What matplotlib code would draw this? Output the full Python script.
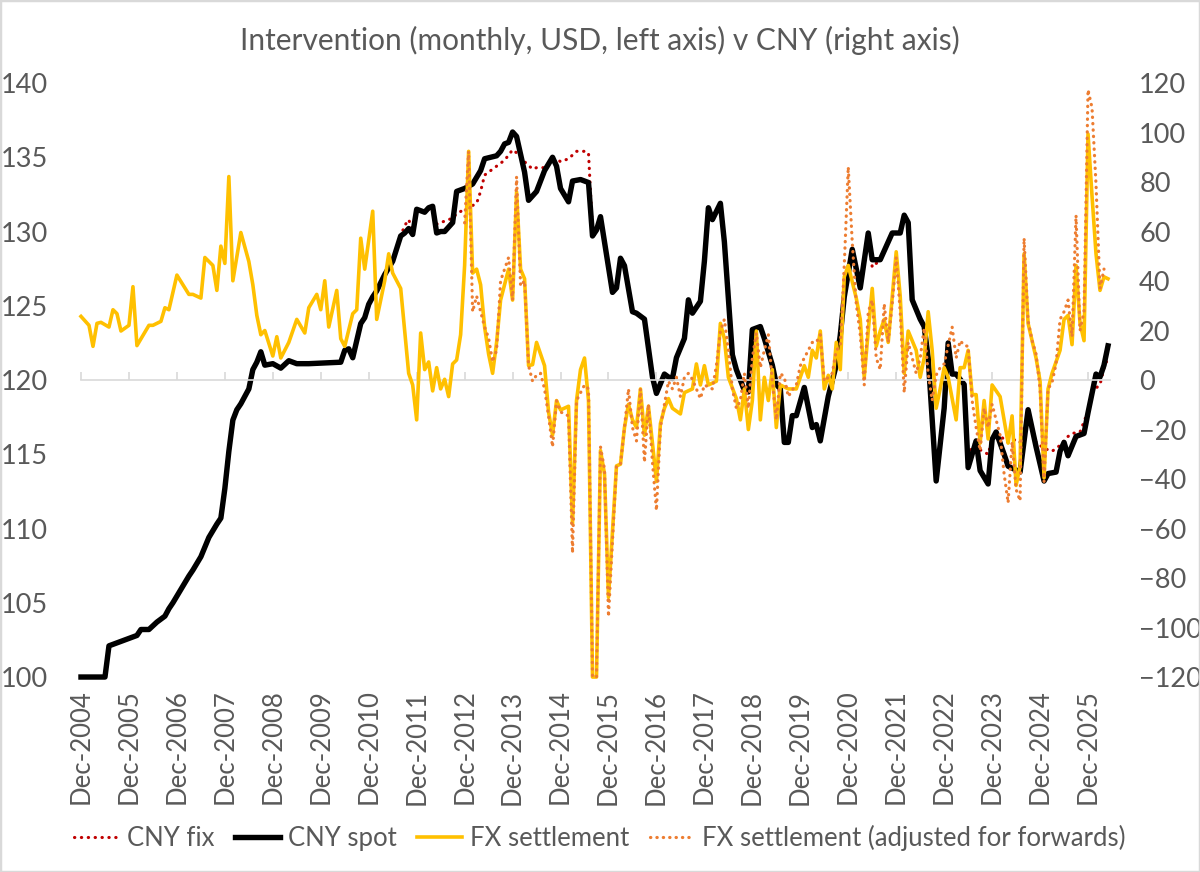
import matplotlib
matplotlib.use("Agg")
import matplotlib.pyplot as plt
import pandas as pd
from matplotlib.patches import Rectangle

# x values are month offsets from Dec-2004 (0 = Dec-2004, 12 = Dec-2005, ...)

# CNY spot index (left axis)
SPOT_M = [0, 6, 7, 8, 11, 14, 15, 17, 19, 21, 22, 23, 25, 27, 28, 30, 32, 34, 35, 36,
          37, 38, 39, 40, 42, 43, 44, 45, 46, 48, 50, 52, 54, 57, 65, 66, 67, 68, 70, 71,
          72, 73, 74, 76, 78, 80, 81, 82, 83, 84, 86, 87, 88, 89, 90, 91, 93, 94, 96, 98,
          100, 101, 104, 105, 106, 107, 108, 109, 111, 112, 114, 116, 118, 119, 120, 122,
          123, 125, 127, 128, 129, 130, 133, 134, 135, 136, 138, 139, 141, 143, 144, 146,
          147, 148, 149, 151, 152, 153, 155, 156, 157, 158, 160, 161, 163, 164, 166, 167,
          168, 170, 171, 173, 174, 175, 176, 177, 178, 179, 181, 183, 184, 185, 187, 189,
          190, 191, 192, 193, 195, 197, 198, 200, 203, 205, 206, 207, 208, 210, 211, 212,
          214, 216, 217, 218, 219, 221, 222, 224, 225, 227, 228, 229, 231, 232, 235, 237,
          239, 241, 242, 244, 245, 246, 247, 249, 251, 252, 254, 255, 256, 257]
SPOT = [100.0, 100.0, 102.1, 102.2, 102.5, 102.8, 103.2, 103.2, 103.7, 104.1, 104.6, 105.0,
        105.9, 106.8, 107.2, 108.1, 109.4, 110.3, 110.7, 112.7, 115.2, 117.3, 118.0, 118.4,
        119.4, 120.7, 121.2, 121.9, 121.0, 121.1, 120.8, 121.3, 121.1, 121.1, 121.2, 122.0,
        122.1, 121.5, 123.8, 124.2, 125.1, 125.6, 126.0, 127.1, 128.0, 129.7, 129.9, 130.2,
        129.8, 131.5, 131.3, 131.6, 131.7, 129.9, 130.0, 130.0, 130.6, 132.7, 132.9, 133.2,
        134.1, 134.9, 135.1, 135.4, 135.9, 136.0, 136.7, 136.4, 134.0, 132.1, 132.7, 134.1,
        135.0, 134.4, 132.9, 132.0, 133.4, 133.5, 133.3, 129.7, 130.1, 131.0, 125.9, 126.2,
        128.2, 127.7, 124.6, 124.5, 124.1, 120.2, 119.1, 120.4, 120.2, 120.1, 121.5, 122.8,
        125.4, 124.5, 125.3, 128.0, 131.6, 130.8, 131.9, 129.3, 121.7, 120.7, 119.3, 119.2,
        123.4, 123.6, 122.8, 121.0, 119.7, 119.4, 115.8, 115.8, 117.6, 117.6, 119.5, 116.8,
        117.0, 115.9, 118.9, 121.0, 123.0, 125.6, 127.2, 128.8, 126.2, 129.9, 128.1, 128.1,
        129.9, 129.9, 131.1, 130.6, 125.4, 124.1, 123.6, 121.5, 113.2, 118.1, 122.5, 120.4,
        120.4, 119.7, 114.1, 115.9, 113.9, 113.0, 116.0, 116.5, 115.0, 114.2, 113.8, 118.0,
        115.5, 113.2, 113.7, 113.8, 115.2, 115.8, 114.9, 116.2, 116.4, 117.8, 120.4, 120.2,
        121.0, 122.3]

# CNY fix index (left axis)
FIX_M = [0, 6, 7, 8, 11, 14, 15, 17, 19, 21, 22, 23, 25, 27, 28, 30, 32, 34, 35, 36,
         37, 38, 39, 40, 42, 43, 44, 45, 46, 48, 50, 52, 54, 57, 65, 66, 67, 68, 70, 71,
         72, 73, 74, 76, 78, 80, 81, 82, 83, 84, 86, 87, 88, 89, 90, 91, 93, 94, 96, 97,
         99, 100, 101, 104, 106, 108, 109, 111, 113, 114, 116, 119, 120, 122, 124, 126,
         127, 128, 129, 130, 133, 134, 135, 136, 138, 139, 141, 143, 144, 146, 147, 148,
         149, 151, 152, 153, 155, 156, 157, 158, 160, 161, 163, 164, 166, 167, 168, 170,
         171, 173, 174, 175, 176, 177, 178, 179, 181, 183, 184, 185, 187, 189, 190, 191,
         192, 193, 195, 197, 198, 200, 203, 205, 206, 207, 208, 210, 211, 212, 214, 216,
         217, 218, 219, 221, 222, 224, 225, 227, 228, 229, 231, 232, 234, 235, 237, 239,
         241, 243, 245, 247, 248, 250, 252, 253, 255, 256, 257]
FIX = [100.0, 100.0, 102.1, 102.2, 102.5, 102.8, 103.2, 103.2, 103.7, 104.1, 104.6, 105.0,
       105.9, 106.8, 107.2, 108.1, 109.4, 110.3, 110.7, 112.7, 115.2, 117.3, 118.0, 118.4,
       119.4, 120.7, 121.2, 121.9, 121.0, 121.1, 120.8, 121.3, 121.1, 121.1, 121.2, 122.0,
       122.1, 121.5, 123.7, 124.2, 125.1, 125.6, 126.0, 127.1, 128.0, 129.7, 130.4, 130.8,
       130.1, 131.3, 131.3, 131.5, 131.6, 130.5, 130.6, 130.7, 130.9, 131.2, 131.5, 131.6,
       131.9, 132.7, 133.8, 134.4, 134.8, 135.5, 135.3, 134.7, 134.2, 134.3, 134.3, 134.9,
       134.7, 134.9, 135.4, 135.4, 135.3, 130.0, 130.1, 131.0, 125.9, 126.2, 128.2, 127.7,
       124.6, 124.5, 124.1, 120.2, 119.1, 120.4, 120.2, 120.1, 121.5, 122.8, 125.4, 124.5,
       125.3, 128.0, 131.6, 130.8, 131.9, 129.3, 121.7, 120.7, 119.3, 119.2, 123.4, 123.6,
       122.8, 121.0, 119.7, 119.4, 115.8, 115.8, 117.6, 117.6, 119.5, 116.8, 117.0, 115.9,
       118.9, 121.0, 123.0, 125.6, 127.2, 128.8, 126.2, 129.9, 127.6, 128.1, 129.9, 129.9,
       131.1, 130.6, 125.4, 124.1, 123.6, 121.5, 113.5, 118.1, 122.5, 120.4, 120.4, 119.7,
       115.0, 115.9, 115.3, 115.0, 116.0, 116.5, 116.0, 115.8, 116.0, 115.8, 117.6, 115.8,
       115.4, 115.2, 115.6, 116.2, 116.4, 116.5, 117.9, 119.2, 119.7, 120.8, 121.5]

# FX settlement, USD bn (right axis)
FXS_M = [0, 2, 3, 4, 5, 7, 8, 9, 10, 12, 13, 14, 17, 18, 20, 21, 22, 24, 27, 28, 30, 31,
         33, 34, 35, 36, 37, 38, 40, 42, 43, 44, 45, 46, 48, 49, 50, 52, 54, 56, 57, 59,
         60, 61, 62, 64, 65, 66, 68, 69, 70, 71, 73, 74, 76, 77, 78, 80, 81, 82, 83, 84,
         85, 86, 87, 88, 89, 90, 91, 92, 93, 94, 95, 96, 97, 98, 99, 100, 101, 102, 103,
         104, 105, 106, 107, 108, 109, 110, 111, 112, 113, 114, 116, 117, 118, 119, 120,
         122, 123, 124, 125, 126, 127, 128, 129, 130, 131, 132, 134, 135, 136, 137, 138,
         139, 140, 141, 142, 143, 144, 145, 146, 147, 148, 150, 151, 153, 154, 155, 156,
         157, 159, 160, 161, 162, 164, 165, 166, 167, 168, 169, 170, 171, 172, 173, 174,
         175, 177, 179, 181, 182, 183, 184, 185, 186, 187, 188, 189, 190, 191, 192, 194,
         195, 196, 197, 198, 199, 200, 201, 202, 204, 205, 206, 207, 209, 210, 211, 212,
         213, 214, 215, 216, 217, 219, 220, 221, 222, 223, 224, 225, 226, 227, 228, 230,
         232, 233, 234, 235, 236, 237, 239, 240, 241, 242, 243, 245, 246, 247, 248, 249,
         250, 251, 252, 253, 254, 255, 256, 257]
FXS = [25.7, 22.1, 13.6, 22.9, 23.3, 21.4, 28.4, 26.8, 19.8, 22.1, 37.7, 13.9, 22.1, 22.1,
       23.7, 29.2, 28.4, 42.4, 34.6, 34.6, 33.1, 49.5, 46.3, 36.2, 54.1, 47.1, 82.2, 40.1,
       59.6, 47.9, 38.5, 26.1, 18.3, 20.0, 9.7, 17.5, 8.9, 15.2, 24.5, 19.0, 29.2, 34.6,
       28.4, 40.1, 21.4, 36.2, 16.7, 13.6, 26.8, 28.4, 57.3, 44.8, 68.2, 24.5, 40.1, 51.0,
       43.2, 37.0, 19.8, 2.7, -2.0, -16.1, 19.0, 4.2, 7.3, -4.4, 5.0, -3.6, 0.3, -6.7, 6.5,
       8.1, 18.3, 46.3, 92.4, 43.2, 44.8, 38.5, 21.4, 10.5, 2.7, 15.2, 32.3, 38.5, 44.8,
       32.3, 76.0, 44.8, 40.9, 5.8, 6.2, 15.2, 5.8, -12.9, -22.3, -8.3, -12.1, -10.6, -58.2,
       -8.3, 4.2, 8.9, -8.3, -120.0, -120.0, -28.5, -37.9, -87.8, -34.7, -34.0, -19.2, -9.8,
       -16.1, -19.2, -3.6, -22.3, -10.6, -25.5, -41.0, -17.6, -11.4, -7.5, -11.4, -13.7,
       -5.1, -3.6, 6.5, -2.0, 5.8, -2.0, -0.5, 22.9, 16.7, 1.1, -7.5, -16.1, -3.6, -20.0,
       -8.3, 19.8, -16.1, 1.1, -8.3, 4.2, -19.2, -2.0, -3.6, -3.6, 5.8, 1.1, 12.0, 8.9,
       19.8, -3.6, 1.9, -3.6, 15.2, 4.2, 41.7, 46.3, 33.1, 24.5, 1.1, 19.8, 37.0, 13.6,
       19.8, 24.5, 15.2, 51.8, 33.9, 2.7, 19.8, 12.0, 1.1, 8.9, 27.6, 12.0, -11.4, -3.6,
       5.0, 1.1, -16.1, 5.0, 5.0, 12.0, -5.9, -5.9, -25.5, -8.3, -23.8, -2.0, -6.7, -25.5,
       -14.5, -42.6, -34.7, 51.0, 22.9, 8.9, -0.5, -39.5, -3.6, 2.7, 12.0, 24.5, 26.1, 14.3,
       46.3, 22.9, 15.9, 99.4, 74.4, 51.0, 36.2, 41.7, 40.9]

# FX settlement adjusted for forwards, USD bn (right axis)
ADJ_M = [96, 97, 98, 99, 100, 101, 102, 103, 104, 105, 106, 107, 108, 109, 110, 111, 112,
         113, 114, 115, 116, 117, 118, 119, 120, 122, 123, 124, 126, 127, 128, 129, 130,
         131, 132, 134, 135, 136, 137, 138, 139, 140, 141, 142, 143, 144, 145, 146, 147,
         148, 149, 150, 151, 152, 153, 154, 155, 156, 158, 159, 160, 161, 162, 163, 164,
         165, 166, 167, 168, 169, 170, 171, 172, 173, 174, 175, 176, 177, 178, 179, 180,
         181, 182, 183, 184, 185, 186, 187, 188, 189, 190, 191, 192, 193, 194, 195, 196,
         197, 198, 199, 200, 201, 202, 203, 204, 205, 206, 207, 208, 209, 210, 211, 212,
         213, 214, 215, 216, 218, 219, 220, 221, 222, 223, 224, 225, 226, 227, 228, 229,
         230, 231, 232, 233, 234, 235, 236, 237, 238, 239, 240, 241, 242, 243, 244, 245,
         246, 247, 248, 249, 250, 251, 252, 253, 254, 255, 256]
ADJ = [63.5, 92.4, 27.6, 33.9, 27.6, 21.4, 17.0, 7.3, 12.0, 40.1, 44.8, 49.5, 32.3, 82.2,
       38.0, 40.1, 5.8, -0.5, 2.0, 2.7, -3.6, -14.5, -27.0, -8.3, -12.9, -14.5, -69.9, -8.3,
       -2.0, -3.6, -120.0, -120.0, -27.0, -36.0, -95.6, -34.7, -34.0, -19.2, -3.6, -19.2,
       -24.6, -3.6, -33.2, -9.8, -33.2, -52.7, -19.2, -9.8, -0.5, -3.6, 1.1, -6.7, 1.1, 2.7,
       0.3, -3.6, -7.5, -2.0, -3.6, 5.8, 19.8, 24.5, 12.0, -3.6, -11.4, -8.3, 2.7, -11.4,
       8.9, 19.0, 5.0, 12.0, 18.3, -0.5, -16.1, 2.7, 1.1, -6.7, -4.0, -2.0, 5.8, 8.9, 12.0,
       15.2, 15.2, 18.3, -0.5, 1.1, 2.7, 12.0, 13.6, 46.3, 86.1, 55.7, 30.8, 18.3, -2.0,
       27.6, 32.3, 8.9, 4.2, 30.8, 15.2, 30.8, 49.5, 27.6, -5.1, 15.2, 8.9, 2.7, 8.9, 21.0,
       2.7, -8.3, 2.0, 5.0, 6.5, 21.4, 8.9, 15.9, 14.0, 13.6, -8.3, -19.2, -28.5, -11.4,
       -19.2, -9.8, -16.1, -22.3, -37.9, -49.6, -25.0, -44.2, -48.8, 57.3, 24.0, 16.0, 10.5,
       -3.6, -41.0, -3.6, -1.0, 6.5, 24.5, 27.6, 32.3, 17.5, 66.6, 20.0, 27.6, 117.3, 110.0,
       79.1, 36.9, 44.8]

TITLE = "Intervention (monthly, USD, left axis) v CNY (right axis)"
TXT = "#595959"
GRID = "#d9d9d9"
FS = 18.5

plt.rcParams["font.family"] = ["Lato", "DejaVu Sans"]

fig = plt.figure(figsize=(12, 8.72), dpi=100)
ax = fig.add_axes([0.0675, 0.2236, 0.8575, 0.6812])
ax2 = ax.twinx()

l_fix, = ax.plot(FIX_M, FIX, color="#c00000", lw=2.25, linestyle=(0, (0.1, 2.1)),
                 dash_capstyle="round", zorder=2, clip_on=False)
l_spot, = ax.plot(SPOT_M, SPOT, color="black", lw=3.9, solid_joinstyle="round",
                  zorder=3, clip_on=False)
l_fxs, = ax2.plot(FXS_M, FXS, color="#ffc000", lw=2.6, solid_joinstyle="round",
                  zorder=3, clip_on=False)
l_adj, = ax2.plot(ADJ_M, ADJ, color="#ed7d31", lw=2.3, linestyle=(0, (0.1, 1.9)),
                  dash_capstyle="round", zorder=4, clip_on=False)

ax.set_xlim(0, 257.5)
ax.set_ylim(100, 140)
ax2.set_ylim(-120, 120)
ax.set_yticks(range(100, 141, 5))
ax2.set_yticks(range(-120, 121, 20))

ticks = list(range(0, 253, 12))
labels = [(pd.Period("2004-12", "M") + m).strftime("%b-%Y") for m in ticks]
ax.set_xticks(ticks, labels, rotation=90)
ax.tick_params(axis="x", length=0, pad=9, labelsize=18.5, labelcolor=TXT)
ax.tick_params(axis="y", length=0, pad=24, labelsize=19.5, labelcolor=TXT)
ax2.tick_params(axis="y", length=0, pad=21, labelsize=19.5, labelcolor=TXT)

for s in list(ax.spines.values()) + list(ax2.spines.values()):
    s.set_visible(False)

# zero line of the right axis carries the date ticks
ax2.xaxis.set_visible(True)
ax2.spines["bottom"].set_visible(True)
ax2.spines["bottom"].set_position(("data", 0))
ax2.spines["bottom"].set_color(GRID)
ax2.spines["bottom"].set_linewidth(1.2)
ax2.tick_params(axis="x", direction="in", length=6, width=1.2, color=GRID,
                labelbottom=False, top=False)

fig.text(0.5, 1 - 40 / 872, TITLE, ha="center", va="center", fontsize=21.5, color=TXT)

fig.legend([l_fix, l_spot, l_fxs, l_adj],
           ["CNY fix", "CNY spot", "FX settlement", "FX settlement (adjusted for forwards)"],
           loc="center", bbox_to_anchor=(0.5, 1 - 838 / 872), ncol=4, frameon=False,
           fontsize=FS, labelcolor=TXT, handlelength=1.75, handletextpad=0.3,
           columnspacing=0.8)

fig.patches.append(Rectangle((0, 0), 1, 1, transform=fig.transFigure, fill=False,
                             edgecolor=GRID, lw=2.5))

fig.savefig("out.png", dpi=100)
